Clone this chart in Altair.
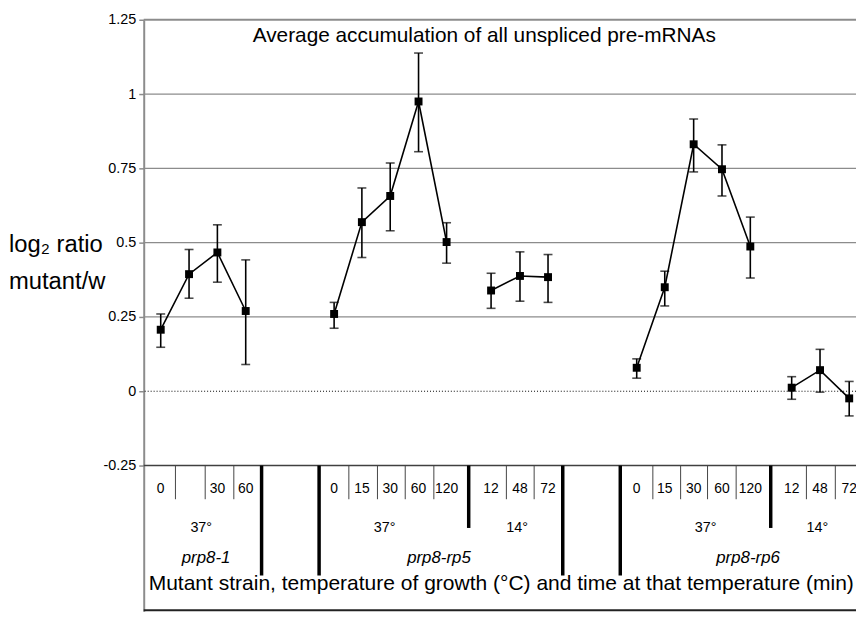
import altair as alt
import pandas as pd

# ---------------- data ----------------
grp_1 = "prp8-1 37"
x_1 = [0.6, 1.6, 2.6, 3.6]
y_1 = [0.207, 0.394, 0.467, 0.27]
lo_1 = [0.148, 0.313, 0.367, 0.09]
hi_1 = [0.26, 0.477, 0.56, 0.442]
t_1 = ["0", "", "30", "60"]

grp_2 = "prp8-rp5 37"
x_2 = [6.72, 7.70, 8.70, 9.70, 10.69]
y_2 = [0.26, 0.569, 0.657, 0.975, 0.502]
lo_2 = [0.212, 0.45, 0.54, 0.806, 0.431]
hi_2 = [0.299, 0.684, 0.768, 1.138, 0.567]
t_2 = ["0", "15", "30", "60", "120"]

grp_3 = "prp8-rp5 14"
x_3 = [12.26, 13.28, 14.27]
y_3 = [0.339, 0.388, 0.384]
lo_3 = [0.279, 0.303, 0.299]
hi_3 = [0.397, 0.469, 0.46]
t_3 = ["12", "48", "72"]

grp_4 = "prp8-rp6 37"
x_4 = [17.40, 18.39, 19.41, 20.41, 21.41]
y_4 = [0.079, 0.35, 0.831, 0.747, 0.487]
lo_4 = [0.044, 0.287, 0.738, 0.657, 0.381]
hi_4 = [0.109, 0.404, 0.916, 0.829, 0.586]
t_4 = ["0", "15", "30", "60", "120"]

grp_5 = "prp8-rp6 14"
x_5 = [22.87, 23.87, 24.90]
y_5 = [0.012, 0.071, -0.024]
lo_5 = [-0.027, -0.003, -0.083]
hi_5 = [0.049, 0.141, 0.033]
t_5 = ["12", "48", "72"]

temp_labels = ["37°", "37°", "14°", "37°", "14°"]
temp_x = [2.03, 8.5, 13.18, 19.83, 23.78]
strain_labels = ["prp8-1", "prp8-rp5", "prp8-rp6"]
strain_x = [2.2, 10.42, 21.33]

thin_div_x = [1.12, 2.17, 3.18, 7.24, 8.25, 9.23, 10.24, 12.80, 13.78,
              17.97, 18.95, 19.90, 20.91, 23.39, 24.41]
thick_long_x = [4.16, 6.19, 14.79, 16.82]
thick_short_x = [11.47, 22.13]

y_ticks = [-0.25, 0, 0.25, 0.5, 0.75, 1, 1.25]
grid_vals = [0.25, 0.5, 0.75, 1]

title_text = "Average accumulation of all unspliced pre-mRNAs"
ytitle_1 = "log\u2082 ratio"
ytitle_2 = "mutant/w"
xtitle_text = "Mutant strain, temperature of growth (°C) and time at that temperature (min)"

# ---------------- tables ----------------
rows = []
for g, xs, ys, los, his, ts in [
    (grp_1, x_1, y_1, lo_1, hi_1, t_1),
    (grp_2, x_2, y_2, lo_2, hi_2, t_2),
    (grp_3, x_3, y_3, lo_3, hi_3, t_3),
    (grp_4, x_4, y_4, lo_4, hi_4, t_4),
    (grp_5, x_5, y_5, lo_5, hi_5, t_5),
]:
    for a, b, c, d, e in zip(xs, ys, los, his, ts):
        rows.append({"group": g, "x": a, "y": b, "lo": c, "hi": d, "time": e})
df = pd.DataFrame(rows)

FONT = "Liberation Sans"
W, H = 719, 597
xscale = alt.Scale(domain=[0, 25.14], nice=False, zero=False)
yscale = alt.Scale(domain=[1.25 - H / 300.0, 1.25], nice=False, zero=False)

X = alt.X("x:Q", scale=xscale, axis=None)

base = alt.Chart(df)

yaxis = alt.Axis(values=y_ticks, labelExpr="datum.value + ''", grid=False,
                 domain=True, domainColor="#8c8c8c", domainWidth=2,
                 ticks=True, tickColor="#8c8c8c", tickSize=5, tickWidth=1.5,
                 labelFont=FONT, labelFontSize=14.5, labelColor="black",
                 labelPadding=3, title=None)

grid = alt.Chart(pd.DataFrame({"v": grid_vals})).mark_rule(
    color="#8c8c8c", strokeWidth=1.2).encode(
    y=alt.Y("v:Q", scale=yscale, axis=yaxis))
top_border = alt.Chart(pd.DataFrame({"v": [y_ticks[-1]]})).mark_rule(
    color="#8c8c8c", strokeWidth=2).encode(y=alt.Y("v:Q", scale=yscale))
zero_line = alt.Chart(pd.DataFrame({"v": [0]})).mark_rule(
    color="black", strokeWidth=1, strokeDash=[1, 2]).encode(y=alt.Y("v:Q", scale=yscale))
low_border = alt.Chart(pd.DataFrame({"v": [y_ticks[0]]})).mark_rule(
    color="#404040", strokeWidth=1.5).encode(y=alt.Y("v:Q", scale=yscale))
bottom_line = alt.Chart(pd.DataFrame({"v": [0]})).mark_rule(
    color="#222222", strokeWidth=2).encode(y=alt.value(H - 1))

errs = base.mark_rule(color="black", strokeWidth=1.6).encode(
    x=X, y=alt.Y("lo:Q", scale=yscale), y2="hi:Q")
cap_lo = base.mark_tick(color="black", orient="horizontal", size=9, thickness=1.6).encode(
    x=X, y=alt.Y("lo:Q", scale=yscale))
cap_hi = base.mark_tick(color="black", orient="horizontal", size=9, thickness=1.6).encode(
    x=X, y=alt.Y("hi:Q", scale=yscale))
lines = base.mark_line(color="black", strokeWidth=1.6).encode(
    x=X, y=alt.Y("y:Q", scale=yscale), detail="group:N", order="x:Q")
pts = base.mark_square(color="black", size=64, opacity=1).encode(
    x=X, y=alt.Y("y:Q", scale=yscale))

# table under the plot
thin = alt.Chart(pd.DataFrame({"x": thin_div_x})).mark_rule(
    color="#444444", strokeWidth=1).encode(x=X, y=alt.value(450), y2=alt.value(484))
thick_long = alt.Chart(pd.DataFrame({"x": thick_long_x})).mark_rule(
    color="black", strokeWidth=3.5).encode(x=X, y=alt.value(450), y2=alt.value(561))
thick_short = alt.Chart(pd.DataFrame({"x": thick_short_x})).mark_rule(
    color="black", strokeWidth=3.5).encode(x=X, y=alt.value(450), y2=alt.value(513))

time_txt = base.mark_text(font=FONT, fontSize=14, color="black", baseline="middle").encode(
    x=X, y=alt.value(474), text="time:N")
temp_txt = alt.Chart(pd.DataFrame({"x": temp_x, "t": temp_labels})).mark_text(
    font=FONT, fontSize=14.5, color="black", baseline="middle").encode(
    x=X, y=alt.value(513), text="t:N")
strain_txt = alt.Chart(pd.DataFrame({"x": strain_x, "t": strain_labels})).mark_text(
    font=FONT, fontSize=17, fontStyle="italic", color="black", baseline="middle").encode(
    x=X, y=alt.value(543), text="t:N")
xtitle = alt.Chart(pd.DataFrame({"t": [xtitle_text]})).mark_text(
    font=FONT, fontSize=21.2, color="black", align="left", baseline="middle").encode(
    x=alt.value(5), y=alt.value(570), text="t:N")

title = alt.Chart(pd.DataFrame({"t": [title_text]})).mark_text(
    font=FONT, fontSize=21, color="black", align="left", baseline="middle").encode(
    x=alt.value(110), y=alt.value(16), text="t:N")
yt1 = alt.Chart(pd.DataFrame({"t": [ytitle_1]})).mark_text(
    font=FONT, fontSize=24, color="black", align="left", baseline="middle").encode(
    x=alt.value(-136), y=alt.value(227), text="t:N")
yt2 = alt.Chart(pd.DataFrame({"t": [ytitle_2]})).mark_text(
    font=FONT, fontSize=24, color="black", align="left", baseline="middle").encode(
    x=alt.value(-136), y=alt.value(265), text="t:N")

chart = alt.layer(
    grid, top_border, zero_line, low_border, bottom_line,
    errs, cap_lo, cap_hi, lines, pts,
    thin, thick_long, thick_short, time_txt, temp_txt, strain_txt, xtitle,
    title, yt1, yt2,
).properties(
    width=W, height=H,
    autosize=alt.AutoSizeParams(type="none"),
    padding={"left": 137, "top": 9, "right": 0, "bottom": 1},
    background="white",
).configure_view(stroke=None)

chart.save("out.html", embed_options={"renderer": "svg", "actions": False})
